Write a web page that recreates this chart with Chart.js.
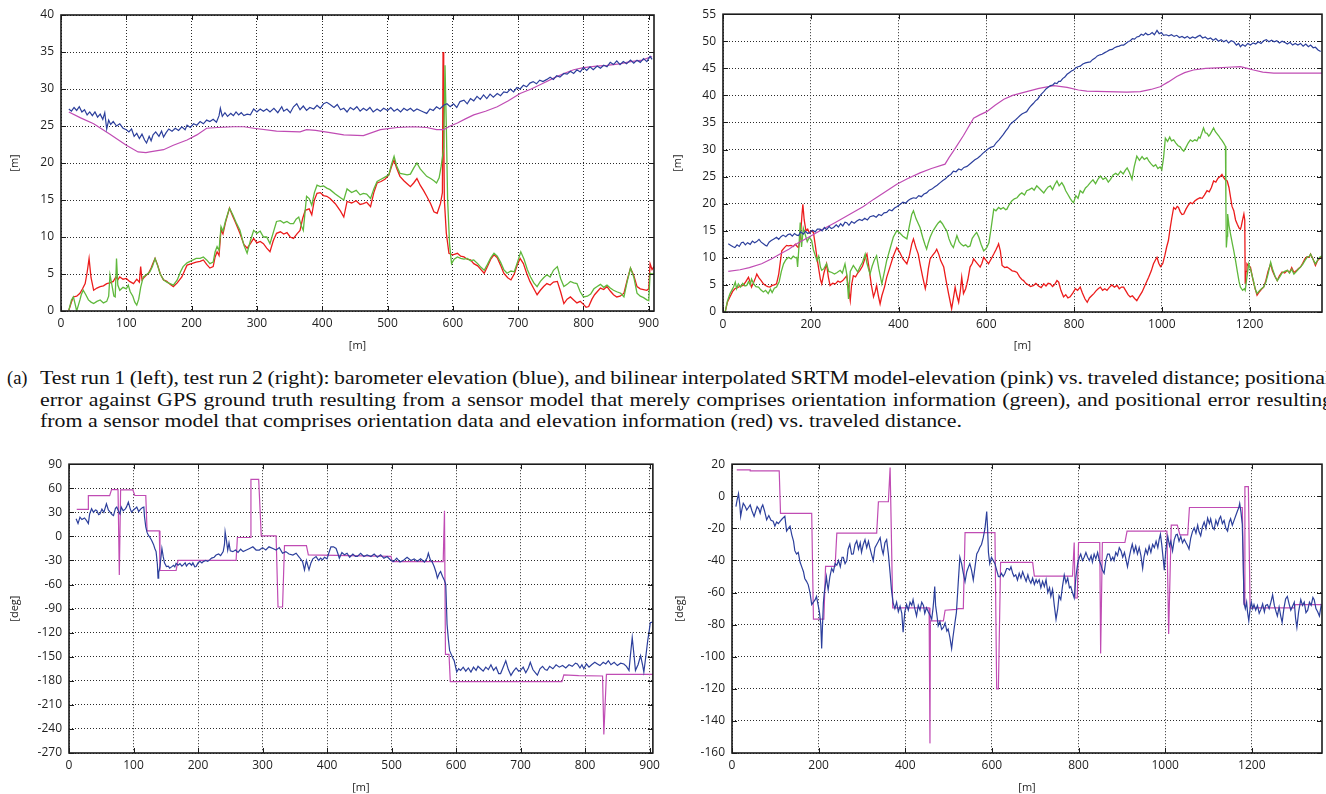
<!DOCTYPE html>
<html>
<head>
<meta charset="utf-8">
<script src="https://cdn.jsdelivr.net/npm/chart.js@4.4.1/dist/chart.umd.min.js"></script>
<style>
  html, body { margin: 0; padding: 0; background: #fff; }
  body { width: 1326px; height: 794px; position: relative; overflow: hidden; }
  .box { position: absolute; }
  .cap { position: absolute; font-family: "Liberation Serif", "Times New Roman", serif; font-size: 18.5px;
         line-height: 21px; color: #111; white-space: nowrap; transform-origin: 0 0; }
</style>
</head>
<body>
<div class="box" style="left:0;top:0;width:665px;height:352px"><canvas id="run1-elev"></canvas></div>
<div class="box" style="left:670px;top:0;width:656px;height:352px"><canvas id="run2-elev"></canvas></div>
<div class="box" style="left:0;top:450px;width:665px;height:344px"><canvas id="run1-head"></canvas></div>
<div class="box" style="left:670px;top:450px;width:656px;height:344px"><canvas id="run2-head"></canvas></div>

<div class="cap" style="left:7px;top:368px">(a)</div>
<div class="cap" id="cap1" style="left:40px;top:368px">Test run 1 (left), test run 2 (right): barometer elevation (blue), and bilinear interpolated SRTM model-elevation (pink) vs. traveled distance; positional</div>
<div class="cap" id="cap2" style="left:40px;top:389.5px">error against GPS ground truth resulting from a sensor model that merely comprises orientation information (green), and positional error resulting</div>
<div class="cap" id="cap3" style="left:40px;top:411px">from a sensor model that comprises orientation data and elevation information (red) vs. traveled distance.</div>

<script>
// [distance m, value] pairs

// test run 1, elevation / positional error
const run1Baro = [[12,27.3],[16,27.0],[20,27.5],[24,27.1],[28,27.6],[32,26.9],[36,27.2],[40,26.5],[44,26.9],[48,26.4],[52,26.9],[56,26.2],[60,26.6],[64,25.9],[67,26.8],[70,24.6],[73,25.8],[76,25.2],[80,25.6],[85,25.0],[90,25.3],[95,24.7],[100,24.5],[104,24.2],[108,24.6],[112,23.6],[116,24.0],[120,23.3],[124,23.9],[128,23.1],[131,22.7],[135,23.6],[138,23.0],[141,23.8],[145,24.2],[150,23.6],[154,24.3],[157,23.5],[161,24.1],[165,24.6],[170,24.3],[175,24.7],[180,24.4],[185,24.9],[190,24.5],[193,25.1],[198,24.8],[203,25.3],[208,25.1],[213,25.6],[218,25.3],[223,25.8],[228,25.6],[233,25.9],[238,25.5],[242,26.4],[244,27.4],[247,26.3],[251,26.8],[255,26.3],[260,26.7],[264,26.4],[268,26.9],[272,26.5],[276,26.8],[280,26.4],[285,26.6],[290,26.5],[295,27.3],[300,26.9],[305,27.3],[310,27.0],[315,27.3],[320,26.9],[326,27.4],[332,26.8],[338,27.6],[341,27.0],[346,27.3],[351,26.8],[356,27.6],[361,28.0],[366,27.2],[371,27.7],[376,27.1],[381,27.5],[387,27.3],[392,27.8],[397,27.4],[402,28.0],[407,28.2],[412,27.9],[418,27.5],[423,27.9],[428,27.2],[433,27.4],[438,26.9],[443,27.5],[448,27.2],[453,27.6],[458,27.0],[463,27.4],[468,27.1],[473,27.5],[478,26.9],[484,27.3],[489,27.0],[494,27.4],[500,27.1],[505,27.5],[510,27.0],[515,27.3],[520,26.9],[525,27.4],[530,27.1],[535,27.4],[540,27.0],[545,27.3],[550,27.1],[555,26.9],[560,26.7],[565,27.3],[570,27.1],[575,27.6],[580,27.3],[586,27.8],[591,28.0],[596,27.6],[601,28.0],[606,27.5],[611,28.3],[617,28.5],[622,28.0],[627,28.7],[632,28.4],[637,29.0],[642,28.6],[647,29.2],[652,28.7],[657,29.3],[662,28.9],[668,29.4],[673,29.1],[678,29.6],[683,29.5],[688,30.0],[693,29.6],[698,30.2],[703,30.0],[708,30.5],[713,30.3],[718,30.8],[723,31.0],[728,30.7],[733,31.2],[738,31.0],[744,31.3],[749,31.6],[754,31.3],[759,31.8],[764,31.6],[770,32.1],[775,32.0],[780,32.4],[785,32.1],[790,32.6],[795,32.3],[800,32.9],[805,32.5],[810,33.0],[815,32.6],[821,33.1],[826,32.8],[831,33.2],[836,33.0],[841,33.6],[846,33.3],[851,33.8],[856,33.3],[861,33.7],[866,33.4],[872,33.9],[877,33.5],[882,33.9],[887,33.6],[892,34.1],[897,33.7],[902,34.4],[905,34.0]];
const run1Srtm = [[12,26.9],[30,26.1],[50,25.3],[75,23.9],[100,22.4],[118,21.5],[130,21.4],[136,21.5],[150,21.7],[157,21.8],[172,22.4],[193,23.1],[208,23.8],[223,24.7],[240,24.8],[264,24.9],[280,24.9],[295,24.7],[330,24.3],[366,24.2],[376,24.5],[390,24.4],[412,24.1],[433,23.8],[463,23.7],[489,24.5],[515,24.8],[540,24.9],[560,24.8],[575,24.5],[586,24.5],[596,25.0],[607,25.4],[620,26.0],[632,26.5],[650,27.0],[668,27.6],[685,28.4],[703,29.4],[720,30.0],[739,30.8],[755,31.5],[770,32.1],[785,32.6],[800,32.9],[820,33.1],[836,33.2],[855,33.4],[872,33.7],[890,33.9],[905,34.4]];
const run1ErrOrient = [[12,0.1],[16,1.5],[19,1.9],[22,0.8],[24,0.0],[27,0.9],[29,1.5],[31,2.2],[34,2.8],[38,2.2],[42,1.5],[46,1.2],[50,1.0],[55,1.3],[60,1.5],[65,1.1],[70,1.3],[73,2.0],[75,4.9],[78,3.5],[81,2.0],[83,1.9],[85,7.1],[87,3.5],[90,2.8],[95,3.2],[100,3.0],[103,3.5],[106,2.6],[110,2.0],[113,1.2],[116,0.8],[119,1.6],[122,3.2],[126,4.6],[131,4.9],[136,5.3],[140,6.0],[144,7.1],[148,6.1],[152,5.0],[157,4.2],[162,3.9],[167,3.7],[172,3.5],[178,4.2],[183,5.3],[187,6.0],[193,6.5],[200,6.8],[207,7.1],[213,7.1],[218,7.3],[223,6.9],[228,6.4],[233,6.6],[236,8.0],[239,8.7],[242,8.2],[245,11.4],[248,10.8],[252,12.2],[258,13.9],[263,13.0],[268,12.0],[274,10.9],[280,8.9],[285,7.8],[290,9.5],[295,10.9],[300,10.5],[305,10.8],[310,10.0],[315,10.0],[320,9.1],[325,10.6],[330,12.1],[336,12.2],[341,11.9],[346,12.1],[351,11.8],[356,11.8],[360,12.4],[364,12.7],[368,11.5],[371,10.9],[376,15.5],[380,15.2],[384,14.3],[388,16.0],[392,17.0],[397,16.8],[402,16.9],[407,16.6],[412,16.4],[420,15.8],[428,15.3],[433,15.0],[438,16.5],[445,16.0],[452,16.3],[458,15.7],[463,15.9],[468,15.8],[474,15.2],[479,16.5],[484,17.5],[490,17.8],[496,18.1],[502,18.4],[506,19.8],[510,20.9],[514,19.6],[519,18.6],[525,18.5],[530,18.4],[535,18.5],[540,19.3],[545,20.0],[550,19.2],[555,18.7],[560,18.2],[566,17.9],[571,17.6],[575,17.3],[579,18.0],[582,19.5],[586,22.0],[588,33.2],[589,33.2],[590,25.0],[592,15.0],[595,9.0],[598,6.4],[602,7.0],[607,7.3],[612,7.1],[617,7.0],[622,7.1],[627,6.8],[632,6.9],[638,6.4],[643,5.9],[648,5.5],[653,6.3],[658,7.2],[663,7.8],[668,7.4],[673,6.6],[678,5.6],[683,5.1],[689,5.4],[694,5.3],[699,6.6],[704,8.0],[709,7.0],[714,5.6],[719,4.6],[724,3.8],[729,3.3],[734,4.0],[739,4.5],[744,4.9],[749,4.6],[754,5.5],[760,6.0],[765,4.4],[770,3.3],[775,3.6],[780,4.0],[785,3.8],[790,3.7],[795,2.6],[800,1.9],[806,2.0],[811,2.3],[816,3.0],[821,3.3],[826,3.6],[831,3.2],[836,3.5],[841,3.1],[846,2.8],[851,2.6],[857,2.4],[862,1.9],[867,4.0],[872,5.8],[877,4.6],[882,2.4],[887,2.0],[892,1.8],[897,1.5],[900,1.4],[902,5.1],[905,5.0],[908,5.1]];
const run1ErrElev = [[12,0.1],[16,1.2],[19,1.9],[24,2.0],[29,2.4],[33,3.0],[37,3.7],[40,5.2],[43,7.1],[46,4.5],[50,2.8],[55,3.1],[60,3.3],[65,3.4],[70,3.7],[75,3.8],[80,4.0],[84,4.6],[87,4.2],[90,4.6],[95,4.3],[100,4.4],[105,4.0],[111,3.7],[116,4.3],[120,3.9],[122,6.0],[124,4.2],[126,4.4],[130,4.8],[134,5.1],[138,5.8],[141,6.5],[144,7.1],[148,6.2],[152,5.0],[157,4.2],[162,4.0],[167,3.6],[172,3.3],[178,3.8],[185,4.6],[190,5.6],[193,6.2],[200,6.4],[207,6.6],[213,6.7],[218,6.9],[223,6.3],[228,5.8],[233,6.0],[236,7.3],[239,8.0],[242,7.5],[245,11.0],[248,10.4],[252,12.0],[258,13.9],[263,12.8],[268,11.8],[274,10.5],[280,9.0],[285,8.5],[290,9.1],[295,9.8],[300,9.2],[305,9.4],[310,9.1],[315,8.5],[320,8.0],[325,9.5],[330,10.5],[336,10.7],[341,10.4],[346,10.6],[351,10.0],[356,9.8],[361,10.4],[366,10.9],[370,12.5],[374,13.6],[380,13.8],[384,13.0],[388,15.0],[392,15.9],[397,16.0],[402,15.6],[407,15.5],[412,15.2],[420,14.5],[428,13.5],[433,12.7],[438,14.8],[445,14.6],[452,14.9],[458,14.4],[463,14.5],[468,14.7],[474,14.1],[479,16.0],[484,17.3],[490,17.5],[496,17.8],[502,18.4],[506,19.5],[510,20.4],[514,19.3],[519,18.2],[525,17.6],[530,17.2],[535,16.8],[540,17.3],[545,17.9],[550,17.0],[555,16.3],[560,15.5],[566,14.5],[571,13.4],[576,13.2],[581,14.5],[584,16.0],[585,35.0],[586,25.0],[587,15.0],[590,10.5],[594,7.8],[600,7.6],[607,7.8],[612,7.4],[617,7.3],[622,7.0],[627,6.9],[632,6.4],[638,6.1],[643,5.6],[648,5.1],[653,6.0],[658,7.0],[663,7.6],[668,7.2],[673,6.2],[678,5.1],[684,4.5],[689,4.2],[694,5.0],[699,6.3],[703,7.1],[708,6.4],[713,5.1],[718,4.0],[724,3.0],[729,2.2],[734,2.8],[739,3.3],[744,3.7],[749,3.5],[754,3.9],[760,4.0],[765,2.6],[770,1.0],[775,1.6],[780,1.9],[785,1.5],[790,1.1],[795,1.3],[800,0.9],[804,0.5],[808,0.6],[813,1.6],[817,2.2],[821,2.6],[826,3.1],[831,2.9],[836,3.3],[841,2.7],[846,2.2],[851,1.9],[856,2.0],[862,2.4],[867,4.2],[872,5.8],[877,4.8],[882,3.3],[887,3.0],[892,2.9],[897,2.8],[900,3.0],[902,6.4],[905,5.6],[908,6.0]];

// test run 2, elevation / positional error
const run2Baro = [[12,12.6],[18,12.3],[24,12.0],[27,11.9],[32,12.4],[37,12.1],[42,12.8],[46,12.9],[51,12.4],[56,12.8],[62,12.5],[67,13.1],[72,12.8],[77,13.0],[82,13.4],[87,12.9],[92,12.6],[97,12.3],[100,12.2],[105,12.9],[110,13.2],[116,13.5],[122,13.8],[127,13.4],[132,13.9],[137,14.2],[143,13.9],[148,14.3],[153,14.4],[158,14.0],[163,14.5],[168,14.2],[172,14.1],[177,14.8],[183,14.4],[188,14.9],[193,14.5],[198,14.7],[204,15.1],[210,14.8],[215,15.3],[221,15.3],[226,15.0],[231,15.6],[236,15.2],[242,15.8],[247,15.4],[252,15.6],[258,16.1],[263,15.7],[268,16.3],[273,15.9],[278,16.6],[282,16.5],[287,16.0],[293,16.7],[299,16.4],[305,16.8],[311,17.1],[317,16.9],[323,17.3],[329,17.0],[335,17.6],[343,17.8],[349,17.5],[355,18.0],[361,17.8],[367,18.3],[373,18.4],[379,18.9],[385,18.7],[391,19.2],[397,19.5],[404,19.9],[410,20.3],[416,20.1],[422,20.6],[428,20.9],[434,21.1],[440,21.0],[446,21.5],[452,21.3],[458,21.8],[464,22.0],[470,22.5],[476,22.7],[482,23.1],[488,23.4],[495,23.9],[501,24.3],[507,24.6],[513,25.1],[519,25.4],[525,26.0],[531,25.9],[537,26.4],[543,26.2],[549,26.7],[556,26.9],[562,27.3],[568,27.7],[574,28.1],[580,28.4],[586,28.8],[592,29.3],[598,29.7],[604,30.1],[610,30.4],[617,30.6],[623,31.3],[629,31.8],[634,32.3],[639,32.8],[644,33.4],[649,33.9],[654,34.6],[658,34.9],[662,35.2],[667,35.5],[672,35.9],[677,36.3],[682,36.6],[687,36.8],[692,37.0],[697,37.6],[702,38.1],[707,38.5],[712,39.0],[717,39.3],[722,39.9],[726,40.3],[731,40.7],[736,41.2],[741,41.5],[746,41.8],[751,41.9],[756,42.3],[761,42.2],[765,42.6],[769,42.6],[774,43.1],[779,43.4],[784,43.9],[789,44.2],[794,44.5],[799,44.7],[804,45.1],[809,45.3],[814,45.4],[820,45.8],[826,46.0],[831,46.1],[837,46.2],[842,46.6],[848,46.9],[853,47.3],[859,47.5],[864,47.6],[870,47.9],[875,48.1],[881,48.4],[887,48.5],[892,48.8],[898,49.0],[903,49.1],[908,49.3],[913,49.3],[918,49.6],[923,49.9],[928,50.1],[933,50.5],[938,50.4],[943,50.8],[948,50.9],[953,51.3],[958,51.1],[963,51.5],[968,51.2],[973,51.3],[978,51.6],[983,51.2],[989,52.0],[994,51.4],[999,51.6],[1004,51.1],[1010,51.2],[1016,51.0],[1022,51.2],[1028,50.9],[1034,51.1],[1040,50.7],[1046,50.9],[1052,50.6],[1058,50.9],[1064,50.5],[1070,50.8],[1076,50.6],[1082,50.9],[1087,51.1],[1093,50.6],[1099,50.8],[1105,50.4],[1111,50.6],[1117,50.2],[1123,50.5],[1129,50.0],[1135,50.3],[1141,49.9],[1147,50.2],[1152,49.7],[1158,50.1],[1164,49.9],[1170,49.3],[1175,49.6],[1179,49.0],[1184,49.4],[1190,49.1],[1196,49.6],[1202,49.3],[1208,49.7],[1214,49.5],[1220,49.9],[1226,49.6],[1232,50.1],[1238,50.3],[1244,49.9],[1250,50.2],[1256,49.9],[1262,50.1],[1268,49.7],[1274,50.0],[1280,49.8],[1286,49.5],[1292,49.8],[1298,49.3],[1304,49.6],[1310,49.3],[1316,49.6],[1322,49.1],[1328,49.5],[1334,49.0],[1339,49.3],[1345,48.8],[1350,48.9],[1356,48.4],[1362,48.1]];
const run2Srtm = [[12,7.5],[39,7.8],[60,8.2],[88,8.9],[110,9.8],[130,10.7],[150,11.6],[168,12.6],[195,13.8],[221,15.0],[255,16.5],[290,18.1],[320,19.5],[343,20.8],[370,22.2],[396,23.6],[420,24.6],[449,25.7],[475,26.5],[506,27.3],[515,28.5],[525,29.7],[548,32.6],[571,35.8],[585,36.4],[601,37.0],[620,38.2],[640,39.3],[660,40.0],[692,40.7],[720,41.3],[754,41.8],[784,41.5],[810,41.0],[829,40.8],[875,40.7],[920,40.6],[951,40.7],[975,41.1],[996,41.6],[1015,42.5],[1034,43.5],[1052,44.2],[1072,44.7],[1100,45.0],[1126,45.1],[1150,45.2],[1179,45.3],[1195,45.0],[1209,44.7],[1230,44.3],[1255,44.1],[1300,44.1],[1365,44.1]];
const run2ErrOrient = [[5,0.0],[10,2.0],[16,3.4],[20,4.0],[24,4.6],[28,5.5],[31,4.3],[35,5.2],[40,4.6],[45,5.3],[50,4.8],[54,4.9],[58,5.6],[62,5.0],[65,6.1],[70,5.2],[75,4.7],[81,4.6],[86,4.1],[92,3.7],[97,4.0],[103,3.4],[108,4.2],[112,3.6],[117,4.4],[122,4.6],[128,5.6],[133,7.5],[138,8.9],[143,9.6],[149,10.1],[155,9.8],[160,10.3],[165,10.0],[168,10.1],[170,8.3],[173,12.0],[176,16.5],[179,12.0],[183,15.5],[187,14.4],[192,13.0],[197,13.8],[202,13.2],[206,11.5],[210,10.5],[214,9.5],[218,10.3],[222,8.3],[225,7.7],[230,8.0],[236,8.9],[241,7.5],[248,7.3],[254,7.0],[260,7.3],[267,7.7],[272,7.2],[278,8.9],[282,7.0],[286,2.4],[290,7.5],[297,8.6],[302,8.0],[307,7.4],[312,8.3],[318,9.2],[324,10.7],[328,9.0],[335,7.0],[340,8.5],[345,9.6],[350,10.4],[355,8.0],[362,5.2],[368,7.5],[373,9.5],[380,11.5],[388,13.8],[396,15.0],[403,14.6],[410,14.0],[419,13.5],[425,16.0],[430,18.0],[434,18.7],[440,17.2],[449,15.6],[455,13.8],[460,12.5],[464,11.6],[468,12.8],[472,13.8],[478,14.9],[485,15.8],[490,16.4],[495,16.8],[500,16.3],[505,15.6],[510,15.0],[515,13.5],[520,12.5],[525,11.9],[529,13.0],[533,14.1],[538,13.0],[543,12.5],[548,12.2],[553,12.4],[558,12.0],[563,12.2],[568,13.6],[573,14.2],[578,14.7],[583,13.8],[588,12.5],[594,11.3],[598,11.6],[601,11.9],[606,12.8],[611,15.5],[617,19.0],[622,18.7],[628,19.3],[633,19.0],[639,19.3],[644,18.9],[647,19.0],[652,19.8],[658,20.5],[664,20.9],[670,21.1],[676,21.7],[681,22.0],[687,21.6],[692,22.4],[698,22.6],[704,22.9],[709,22.5],[715,23.3],[720,22.9],[726,22.4],[731,22.0],[736,22.6],[741,23.1],[746,23.3],[751,22.6],[756,23.5],[761,24.2],[766,23.3],[772,23.9],[777,23.2],[781,22.4],[786,21.7],[791,21.0],[796,20.4],[799,20.2],[804,21.5],[809,21.0],[814,22.4],[820,22.0],[826,22.9],[831,23.3],[837,23.9],[843,24.4],[849,23.7],[855,24.6],[860,25.1],[866,24.5],[872,24.8],[878,24.0],[883,24.5],[889,25.3],[895,25.6],[900,25.3],[906,26.0],[912,25.5],[917,26.2],[921,26.6],[926,25.8],[932,24.5],[937,26.8],[943,28.8],[949,28.0],[955,28.7],[960,28.2],[966,28.5],[971,27.8],[976,27.3],[981,26.9],[986,27.2],[991,26.5],[996,26.8],[1000,26.3],[1004,28.5],[1008,32.1],[1013,31.5],[1018,32.3],[1022,31.6],[1027,31.8],[1032,31.2],[1037,30.7],[1042,30.5],[1046,30.0],[1050,29.7],[1055,30.4],[1060,31.2],[1065,31.8],[1070,31.5],[1075,31.8],[1080,31.6],[1084,32.3],[1087,32.1],[1091,33.0],[1095,34.0],[1099,33.1],[1103,33.0],[1107,32.5],[1110,32.8],[1114,33.4],[1118,34.0],[1122,33.3],[1126,32.9],[1130,32.5],[1133,32.1],[1137,31.7],[1141,31.2],[1145,30.6],[1146,20.0],[1147,11.9],[1149,14.0],[1150,18.1],[1153,16.0],[1157,14.2],[1161,12.5],[1164,11.3],[1168,9.5],[1172,7.5],[1176,5.6],[1179,4.6],[1184,4.0],[1188,4.3],[1190,4.0],[1194,6.5],[1198,8.9],[1203,7.6],[1208,6.0],[1213,4.2],[1217,3.4],[1222,3.9],[1227,4.3],[1232,4.6],[1237,5.5],[1242,7.0],[1248,9.2],[1252,8.0],[1258,6.6],[1263,5.8],[1268,6.4],[1274,7.2],[1280,7.5],[1286,7.7],[1291,7.2],[1296,7.9],[1301,7.0],[1306,7.4],[1311,7.9],[1316,8.3],[1321,8.8],[1326,9.5],[1331,10.1],[1336,10.3],[1339,10.7],[1344,9.8],[1350,8.9],[1355,9.6],[1360,10.1],[1365,10.4]];
const run2ErrElev = [[5,0.0],[10,1.8],[16,2.8],[22,3.8],[27,4.3],[33,4.5],[40,4.8],[46,4.9],[52,5.6],[58,6.4],[62,5.5],[65,4.6],[70,5.5],[74,6.3],[77,7.0],[82,6.3],[87,5.8],[92,5.2],[97,4.9],[102,4.7],[107,4.6],[112,4.9],[117,5.0],[122,5.2],[127,7.0],[131,9.5],[134,11.3],[140,11.9],[145,12.3],[149,12.2],[155,12.3],[160,12.1],[165,12.5],[170,12.0],[172,11.9],[176,13.5],[180,18.0],[182,19.9],[185,17.0],[189,15.0],[193,15.3],[197,14.6],[202,15.0],[206,14.7],[210,12.5],[214,10.1],[218,8.0],[222,6.0],[225,5.2],[230,7.2],[236,8.9],[240,6.5],[244,4.9],[250,5.3],[256,5.2],[262,5.7],[267,5.5],[273,5.8],[278,6.3],[282,6.7],[286,4.5],[290,2.1],[293,5.0],[297,6.7],[302,6.5],[307,7.2],[312,7.7],[318,8.5],[323,9.8],[328,10.7],[333,8.0],[338,5.0],[343,2.8],[347,3.8],[350,4.9],[354,3.0],[358,1.5],[362,3.0],[368,4.6],[373,6.4],[380,8.2],[388,10.3],[396,11.9],[403,11.0],[410,9.8],[419,8.9],[425,10.5],[430,12.5],[434,13.5],[440,11.8],[445,10.7],[449,8.9],[455,6.5],[461,4.3],[464,5.5],[468,8.0],[472,9.8],[478,10.5],[483,11.0],[487,11.6],[492,10.6],[496,9.5],[503,8.3],[508,6.0],[514,3.4],[518,1.8],[521,0.6],[525,2.5],[529,4.6],[533,3.0],[537,1.8],[541,4.0],[544,6.4],[546,5.0],[548,3.4],[553,4.3],[558,6.0],[563,8.3],[568,9.0],[571,9.8],[576,9.3],[581,8.8],[586,8.3],[590,9.0],[594,10.1],[600,9.5],[605,8.9],[611,9.8],[617,10.7],[622,11.5],[626,12.2],[628,12.6],[632,11.3],[636,8.6],[642,8.2],[647,8.3],[653,8.0],[659,7.6],[665,7.5],[670,7.3],[676,6.5],[681,6.0],[685,5.8],[690,5.3],[696,5.0],[701,4.7],[708,4.9],[713,5.3],[719,4.8],[725,4.5],[731,5.2],[736,4.8],[741,5.3],[746,5.2],[751,4.7],[756,5.1],[761,5.8],[765,5.5],[770,4.0],[776,2.8],[781,3.2],[786,2.6],[791,2.8],[797,3.5],[803,4.3],[808,4.0],[814,4.6],[819,3.5],[825,2.4],[830,1.8],[835,2.6],[840,3.0],[845,3.4],[850,3.9],[855,4.3],[860,4.6],[865,4.0],[870,4.3],[875,4.0],[880,4.5],[886,5.0],[892,4.6],[898,4.9],[903,4.3],[908,4.6],[913,4.6],[918,3.9],[923,3.2],[928,2.8],[933,3.0],[938,2.5],[943,2.1],[948,2.8],[955,3.7],[962,5.0],[970,6.4],[976,7.6],[981,8.9],[986,9.7],[989,10.1],[993,9.0],[997,8.4],[1002,8.9],[1007,10.5],[1011,12.0],[1015,13.2],[1019,15.5],[1023,17.5],[1027,19.3],[1031,19.0],[1035,19.5],[1038,19.3],[1042,18.5],[1046,18.0],[1050,18.1],[1055,19.0],[1060,19.7],[1065,20.2],[1070,20.0],[1075,20.5],[1080,20.8],[1087,21.1],[1092,21.0],[1097,21.6],[1103,22.4],[1108,22.2],[1113,23.0],[1118,24.2],[1123,24.0],[1128,24.7],[1133,25.0],[1137,25.4],[1141,24.8],[1145,24.4],[1149,24.2],[1153,23.0],[1157,21.0],[1160,19.5],[1164,18.7],[1168,17.0],[1172,16.2],[1176,15.5],[1179,15.3],[1181,15.8],[1184,17.0],[1187,18.1],[1189,17.0],[1190,5.2],[1192,7.5],[1194,8.9],[1198,8.5],[1202,8.3],[1207,6.2],[1212,4.5],[1217,3.1],[1222,3.7],[1227,4.2],[1232,4.6],[1237,5.8],[1242,7.5],[1248,8.9],[1252,7.6],[1258,6.5],[1263,5.8],[1268,6.7],[1274,7.4],[1280,7.2],[1286,7.7],[1291,7.3],[1296,8.2],[1301,7.3],[1306,7.6],[1311,8.0],[1316,8.3],[1321,9.0],[1326,9.8],[1331,10.2],[1336,10.1],[1339,10.7],[1344,9.9],[1350,8.6],[1355,9.5],[1360,9.9],[1365,10.1]];

// test run 1, heading [deg]
const run1HeadSensor = [[11,22],[14,16],[17,24],[20,21],[24,23],[27,20],[30,16],[32,28],[35,34.4],[38,30],[41,33],[43,32.4],[46,27],[48,28],[51,34],[54,30],[58,40.6],[61,33],[64,30],[67,27],[69,26],[72,35],[74,36.5],[77,31],[79,28],[81,36.5],[84,32],[87,34],[89,36.5],[92,42.7],[95,34],[97,30.3],[100,33],[103,35],[105,36.5],[108,31],[111,34],[114,36],[116,36.5],[117,25],[119,11.8],[121,5],[123,1.5],[126,-2],[128,-4.7],[131,-10],[133,-15],[135,-19],[137,-35],[138,-52],[139,-45],[141,-37.6],[142,-30],[144,-15],[146,-25],[148,-33],[151,-37.6],[154,-37],[156,-39.6],[159,-38],[162,-36],[164,-38],[166,-33.5],[169,-36],[172,-34],[175,-37],[177,-35.5],[180,-33],[182,-37],[185,-34],[187,-33.5],[190,-36],[192,-33],[195,-38],[197,-37.6],[200,-33],[203,-31],[206,-33],[208,-31.4],[212,-30],[215,-31],[218,-29.3],[221,-27],[225,-26],[228,-23.2],[232,-22],[235,-24],[239,-19],[241,-10],[242,5.6],[244,-5],[246,-17],[248,-8],[250,-18],[254,-19],[258,-17],[262,-20],[266,-16],[270,-19],[275,-17],[280,-15],[285,-12.9],[290,-17],[295,-17],[300,-14],[305,-17],[310,-13],[316,-15],[321,-17],[326,-14],[331,-21],[336,-19],[341,-22],[347,-23.2],[352,-21],[357,-26],[362,-31.4],[365,-41.7],[368,-30],[372,-41.7],[375,-33],[378,-28],[383,-25.2],[387,-30],[390,-27],[393,-29.3],[396,-26],[400,-28],[403,-20],[406,-12.9],[410,-13],[414,-15],[417,-22],[419,-27.3],[423,-20],[427,-23],[431,-21],[435,-26],[440,-22],[444,-25],[447,-25],[452,-21],[457,-25],[462,-23],[468,-25],[473,-22],[478,-26],[483,-23],[488,-27.3],[493,-25],[498,-29],[503,-31.4],[508,-27],[513,-32],[519,-29.3],[524,-26],[530,-30],[535,-28],[540,-31],[545,-28],[551,-32],[555,-27],[557,-21],[560,-29],[563,-32],[566,-37.6],[569,-45],[571,-52],[574,-46],[576,-43.7],[579,-50],[582,-55],[584,-60],[586,-109.6],[588,-128],[590,-142.5],[593,-148],[595,-152],[597,-154.8],[599,-162],[601,-169],[604,-165],[607,-167],[611,-163],[615,-168],[619,-164],[623,-169],[627,-163],[631,-167],[634,-162],[638,-165],[642,-168],[646,-163],[650,-166],[654,-160],[658,-167],[662,-163],[666,-171],[669,-171],[673,-163],[677,-155],[681,-166],[685,-173.3],[689,-168],[693,-164],[697,-168],[700,-167],[704,-163],[708,-170],[712,-164],[715,-157],[719,-166],[723,-170],[726,-173],[730,-165],[734,-162],[738,-166],[741,-167],[745,-162],[750,-165],[755,-160],[760,-163],[765,-161],[770,-164],[775,-160],[780,-162],[785,-158],[788,-159],[792,-164],[795,-160],[798,-165],[802,-159],[806,-163],[810,-160],[815,-157],[819,-159],[823,-161],[828,-157],[832,-159],[836,-155],[840,-160],[845,-157],[850,-161],[855,-158],[860,-159],[864,-162],[868,-167],[870,-150],[873,-126],[876,-150],[878,-167],[882,-160],[886,-148.7],[889,-160],[891,-169],[894,-150],[897,-130],[899,-119.5],[901,-107.5],[904,-107],[906,-108]];
const run1HeadModel = [[12,33.6],[30,33.6],[30,50.9],[63,50.9],[66,58.3],[76,58.3],[78,-48],[80,58],[99,58],[102,51],[119,51],[121,7],[140,7],[141,-42.5],[166,-42.5],[169,-30],[259,-30],[261,-1.4],[281,-1.4],[282,71],[294,71],[298,0.7],[321,0.7],[324,-88],[331,-88],[334,-11.6],[368,-11.6],[371,-23],[499,-25],[501,-31.4],[580,-31.4],[582,32],[583.5,-147],[589,-147],[591,-181],[764,-181],[767,-172.5],[790,-173.5],[827,-174],[829,-247],[833,-172],[906,-172]];

// test run 2, heading [deg]
const run2HeadSensor = [[9,-6.4],[12,-2],[15,1.7],[18,-5],[20,-12.5],[23,-8],[26,-4.4],[30,-6],[34,-8.5],[38,-7],[42,-5.4],[46,-9],[51,-12.5],[55,-9],[58,-6.4],[62,-8],[65,-10.5],[68,-7],[71,-5.4],[75,-9],[80,-14.6],[85,-12],[90,-15],[95,-15.6],[99,-18.6],[103,-16],[107,-17],[111,-15.6],[116,-14],[122,-12.5],[126,-21.7],[130,-20],[134,-18.6],[138,-24],[142,-28],[145,-33.9],[149,-36],[153,-35],[157,-41],[161,-44],[165,-47],[168,-51.2],[172,-53],[176,-55.2],[180,-60],[184,-67.5],[188,-66],[192,-64.4],[195,-62.4],[199,-68],[202,-72.5],[205,-80],[207,-94.9],[209,-80],[211,-66.4],[213,-60],[215,-56.3],[218,-50.2],[220,-55],[222,-58.3],[226,-50],[230,-45],[234,-47],[238,-42],[242,-43],[246,-40],[250,-44],[254,-38],[257,-38],[261,-42],[265,-40],[268,-33],[272,-29.8],[276,-36],[280,-35.9],[284,-30],[288,-27.8],[292,-33],[296,-29],[299,-34.9],[303,-30],[307,-27],[311,-32],[315,-28],[318,-31.9],[322,-36],[326,-40],[330,-32],[334,-30],[338,-28],[342,-25.8],[346,-33],[349,-36],[353,-29],[357,-27],[361,-36],[365,-48],[368,-58],[372,-66.4],[376,-70],[380,-66],[384,-72],[388,-68.5],[392,-73],[395,-84.7],[399,-72],[403,-67.5],[407,-71],[411,-66],[415,-68],[418,-64.4],[422,-70],[426,-74.6],[430,-68],[434,-71],[438,-66],[442,-68],[445,-73],[449,-69.5],[453,-72],[457,-74],[461,-76.6],[464,-70],[466,-64],[468,-56.3],[470,-68],[473,-74],[476,-80.7],[480,-78],[484,-83],[488,-81.7],[492,-79],[496,-84],[499,-82.7],[503,-88],[507,-94.9],[510,-88],[514,-80],[518,-72.5],[522,-55],[526,-38],[530,-42],[534,-48],[538,-53.2],[542,-47],[546,-44],[549,-42],[553,-46],[557,-52.2],[561,-44],[565,-35.9],[569,-34],[572,-31.9],[576,-30],[580,-25.8],[584,-20],[588,-9.5],[590,-20],[592,-35],[595,-42],[599,-38],[603,-40],[607,-42],[611,-46],[615,-50],[618,-50.2],[622,-48],[626,-50],[630,-48.1],[634,-45],[637,-45],[641,-46],[644,-44],[648,-48],[651,-50],[655,-49],[659,-52.2],[663,-48],[667,-51],[671,-47],[675,-50.2],[679,-53],[683,-49],[686,-52],[690,-54.2],[694,-51],[698,-55],[702,-52],[705,-54],[709,-52],[713,-57],[717,-53],[721,-56.3],[725,-52],[729,-60],[733,-57],[736,-62.4],[740,-58],[744,-68],[748,-76.6],[752,-70],[755,-62],[759,-64.4],[763,-56],[767,-49.1],[771,-54],[775,-51],[779,-57],[782,-56.3],[786,-60],[790,-63.4],[794,-50],[798,-42],[802,-38],[805,-36],[809,-40],[813,-38],[817,-35],[821,-38],[825,-40],[829,-37],[832,-41],[836,-36],[840,-39],[844,-35],[848,-40],[852,-43],[855,-46],[859,-48],[863,-40],[867,-36],[871,-36],[875,-40],[879,-38],[882,-40],[886,-35],[890,-37],[894,-32],[898,-34],[902,-38],[906,-35],[910,-40],[913,-44],[917,-38],[921,-33],[924,-29.8],[928,-35],[932,-31],[936,-36],[940,-32],[944,-37],[948,-45],[951,-38],[955,-33],[959,-36],[963,-31],[967,-35],[971,-30],[975,-32],[979,-28],[983,-32],[986,-27],[989,-23.7],[992,-30],[995,-38],[998,-46],[1001,-35],[1004,-28],[1006,-25],[1010,-31],[1013,-28],[1017,-34],[1021,-27],[1025,-24],[1028,-23.7],[1032,-28],[1036,-25],[1040,-29],[1044,-26.8],[1048,-29],[1052,-31],[1055,-32.9],[1059,-26],[1063,-22],[1067,-19.7],[1071,-23],[1075,-18],[1078,-22],[1082,-24.7],[1086,-19],[1090,-16],[1094,-20],[1098,-13.6],[1102,-17],[1105,-14],[1109,-19],[1113,-20.7],[1117,-15],[1121,-18],[1125,-14],[1128,-12.5],[1132,-17],[1136,-15],[1140,-20],[1144,-21.7],[1148,-16],[1151,-14],[1155,-18],[1159,-15],[1163,-12],[1167,-9],[1170,-7],[1172,-4.4],[1175,-10],[1178,-17.6],[1180,-40],[1182,-66.4],[1185,-70],[1188,-66],[1190,-72],[1193,-77.6],[1196,-70],[1199,-66],[1202,-70],[1205,-67.5],[1209,-71],[1213,-68],[1217,-73],[1221,-70.5],[1225,-67],[1229,-72],[1232,-68],[1236,-67.5],[1240,-70],[1244,-66],[1248,-61.4],[1252,-68],[1256,-72],[1259,-74.6],[1263,-69],[1267,-75],[1270,-78.6],[1274,-70],[1278,-64],[1282,-62.4],[1286,-67],[1290,-71],[1294,-68.5],[1298,-66],[1301,-76],[1304,-81.7],[1308,-72],[1313,-64.4],[1317,-68],[1321,-66],[1325,-72.5],[1329,-71],[1333,-66],[1337,-68],[1341,-63],[1344,-64.4],[1348,-70],[1352,-72],[1356,-74.6],[1360,-68],[1363,-70]];
const run2HeadModel = [[11,16.5],[42,16.5],[42,15.9],[109,15.9],[112,-10.7],[184,-10.7],[188,-76.6],[212,-76.6],[216,-43.7],[238,-43.7],[242,-22.9],[334,-22.9],[338,-3.4],[361,-3.4],[365,18],[369,-40],[371,-69.5],[455,-69.5],[457,-154],[458,-77.6],[488,-77.6],[492,-71],[518,-70.5],[522,-70],[534,-70],[538,-22.7],[607,-22.7],[611,-120],[615,-120],[620,-41.2],[694,-41.2],[698,-49.8],[786,-49.8],[790,-28.8],[792,-63.4],[797,-63.4],[800,-28.8],[849,-28.8],[851,-98],[855,-28.8],[907,-28.8],[912,-21.7],[1004,-21.7],[1008,-85.8],[1014,-18],[1028,-18],[1034,-24.1],[1052,-24.1],[1056,-7],[1178,-7],[1182,-67.5],[1184,6],[1192,6],[1196,-69.5],[1298,-69.5],[1300,-67.5],[1363,-67.5]];

// tick labels of the distance axes
const run1DistTicks = [0, 100, 200, 300, 400, 500, 600, 700, 800, 900];
const run2DistTicks = [0, 200, 400, 600, 800, 1000, 1200];

const BLUE = '#2c3f9c';
const PINK = '#c04cb4';
const GREEN = '#5fb83c';
const RED = '#ec1c1c';
const TICK_FONT = { family: '"Open Sans", "DejaVu Sans", sans-serif', size: 12 };
const TITLE_FONT = { family: '"Open Sans", "DejaVu Sans", sans-serif', size: 11 };

// gnuplot-like frame: solid border plus short inward ticks on all four sides
const framePlugin = {
    id: 'frame',
    afterDatasetsDraw(chart) {
        const { ctx, chartArea: a, scales } = chart;
        ctx.save();
        ctx.strokeStyle = '#1b1b1b';
        ctx.lineWidth = 1;
        ctx.beginPath();
        scales.x.ticks.forEach(t => {
            const px = Math.round(scales.x.getPixelForValue(t.value)) + 0.5;
            ctx.moveTo(px, a.bottom); ctx.lineTo(px, a.bottom - 5);
            ctx.moveTo(px, a.top); ctx.lineTo(px, a.top + 5);
        });
        scales.y.ticks.forEach(t => {
            const py = Math.round(scales.y.getPixelForValue(t.value)) + 0.5;
            ctx.moveTo(a.left, py); ctx.lineTo(a.left + 5, py);
            ctx.moveTo(a.right, py); ctx.lineTo(a.right - 5, py);
        });
        ctx.stroke();
        ctx.lineWidth = 1.6;
        ctx.strokeRect(a.left, a.top, a.right - a.left, a.bottom - a.top);
        ctx.restore();
    }
};

function line(label, pairs, color, width) {
    return {
        label: label,
        data: pairs.map(p => ({ x: p[0], y: p[1] })),
        borderColor: color,
        backgroundColor: color,
        borderWidth: width || 1.2,
        pointRadius: 0,
        tension: 0,
        fill: false
    };
}

function makeChart(id, datasets, opt) {
    const ctx = document.getElementById(id).getContext('2d');
    return new Chart(ctx, {
        type: 'line',
        data: { datasets: datasets },
        plugins: [framePlugin],
        options: {
            animation: false,
            responsive: true,
            maintainAspectRatio: false,
            layout: { padding: opt.pad },
            plugins: { legend: { display: false }, tooltip: { enabled: false } },
            scales: {
                x: {
                    type: 'linear',
                    min: 0, max: opt.xMax,
                    afterBuildTicks: s => { s.ticks = opt.xTicks.map(v => ({ value: v })); },
                    afterFit: s => { s.height = opt.xHeight; },
                    ticks: { font: TICK_FONT, color: '#1e1e1e', padding: 5, maxRotation: 0, autoSkip: false,
                             callback: v => String(v) },
                    grid: { color: '#2a2a2a', lineWidth: 1, drawTicks: false },
                    border: { display: false, dash: [1, 2] },
                    title: { display: true, text: '[m]', font: TITLE_FONT, color: '#1e1e1e', padding: { top: 0, bottom: 0 } }
                },
                y: {
                    min: opt.yMin, max: opt.yMax,
                    afterFit: s => { s.width = opt.yWidth; },
                    ticks: { stepSize: opt.yStep, font: TICK_FONT, color: '#1e1e1e', padding: 7, autoSkip: false,
                             callback: v => String(v) },
                    grid: { color: '#2a2a2a', lineWidth: 1, drawTicks: false },
                    border: { display: false, dash: [1, 2] },
                    title: { display: true, text: opt.yTitle, font: TITLE_FONT, color: '#1e1e1e', padding: { top: opt.yTitlePad, bottom: 0 } }
                }
            }
        }
    });
}

makeChart('run1-elev', [
    line('barometer', run1Baro, BLUE),
    line('SRTM', run1Srtm, PINK),
    line('orientation only', run1ErrOrient, GREEN, 1.3),
    line('orientation + elevation', run1ErrElev, RED, 1.3)
], { pad: { top: 15, right: 11, left: 0, bottom: 0 }, xMax: 908, xTicks: run1DistTicks, xHeight: 41,
     yMin: 0, yMax: 40, yStep: 5, yWidth: 61, yTitle: '[m]', yTitlePad: 8 });

makeChart('run2-elev', [
    line('barometer', run2Baro, BLUE),
    line('SRTM', run2Srtm, PINK),
    line('orientation only', run2ErrOrient, GREEN, 1.3),
    line('orientation + elevation', run2ErrElev, RED, 1.3)
], { pad: { top: 12, right: 4, left: 0, bottom: 0 }, xMax: 1365, xTicks: run2DistTicks, xHeight: 40,
     yMin: 0, yMax: 55, yStep: 5, yWidth: 53, yTitle: '[m]', yTitlePad: 1.5 });

makeChart('run1-head', [
    line('sensor heading', run1HeadSensor, BLUE),
    line('model heading', run1HeadModel, PINK)
], { pad: { top: 12, right: 11, left: 0, bottom: 0 }, xMax: 905, xTicks: run1DistTicks, xHeight: 41,
     yMin: -270, yMax: 90, yStep: 30, yWidth: 69, yTitle: '[deg]', yTitlePad: 8 });

makeChart('run2-head', [
    line('sensor heading', run2HeadSensor, BLUE),
    line('model heading', run2HeadModel, PINK)
], { pad: { top: 8, right: 4, left: 0, bottom: 0 }, xMax: 1362, xTicks: run2DistTicks, xHeight: 41,
     yMin: -160, yMax: 20, yStep: 20, yWidth: 62, yTitle: '[deg]', yTitlePad: 3.5 });

// caption: one horizontal scale from the last line, justified lines get tighter word spacing
(function () {
    const m = document.createElement('canvas').getContext('2d');
    m.font = '18.5px "Liberation Serif"';
    const last = document.getElementById('cap3');
    const s = 922 / m.measureText(last.textContent).width;
    last.style.transform = 'scaleX(' + s + ')';
    [['cap1', 1291], ['cap2', 1293]].forEach(([id, target]) => {
        const el = document.getElementById(id);
        const txt = el.textContent;
        const gaps = txt.split(' ').length - 1;
        const ws = (target / s - m.measureText(txt).width) / gaps;
        el.style.wordSpacing = ws + 'px';
        el.style.transform = 'scaleX(' + s + ')';
    });
})();
</script>
</body>
</html>
